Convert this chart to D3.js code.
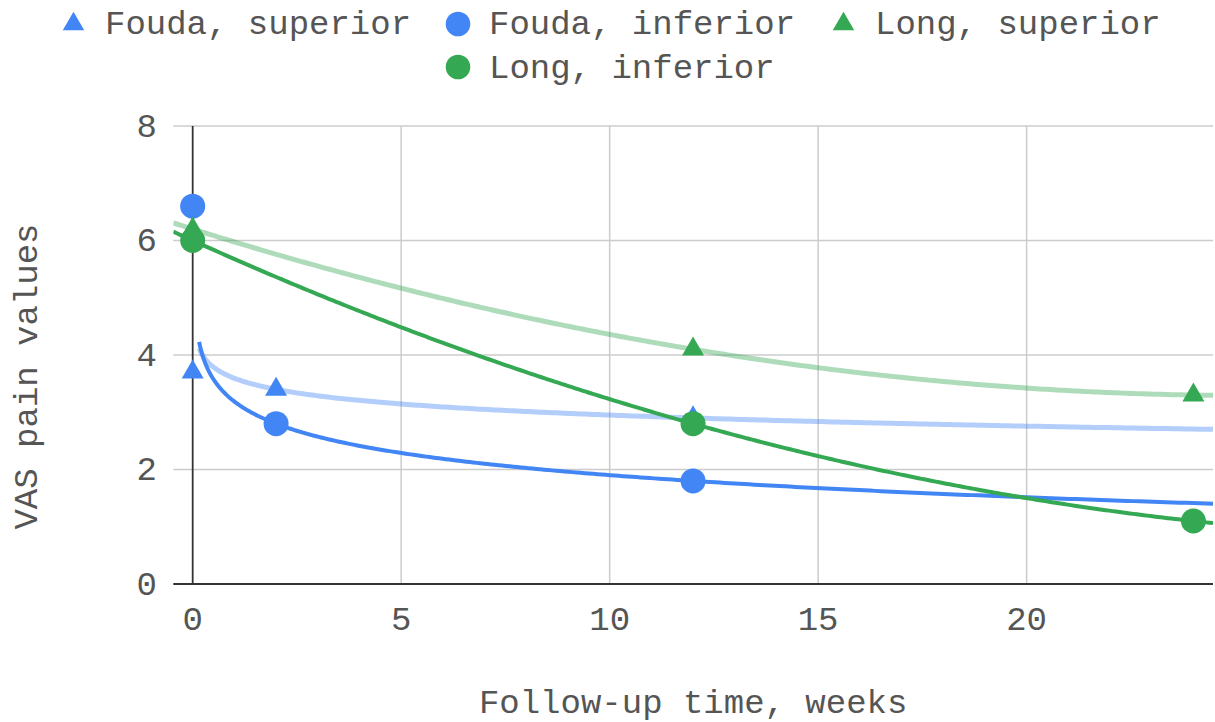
<!DOCTYPE html>
<html>
<head>
<meta charset="utf-8">
<script src="https://cdn.jsdelivr.net/npm/d3@7"></script>
<style>
  html, body { margin: 0; padding: 0; background: #ffffff; }
  svg { display: block; }
</style>
</head>
<body>
<svg id="chart" width="1215" height="722"></svg>
<script>
(function () {
// ---- Data ----
const seriesNames = ["Fouda, superior", "Fouda, inferior", "Long, superior", "Long, inferior"];
const foudaSuperiorX = [0, 2, 12];
const foudaSuperiorY = [3.7, 3.4, 2.9];
const foudaInferiorX = [0, 2, 12];
const foudaInferiorY = [6.6, 2.8, 1.8];
const longSuperiorX = [0, 12, 24];
const longSuperiorY = [6.2, 4.1, 3.3];
const longInferiorX = [0, 12, 24];
const longInferiorY = [6.0, 2.8, 1.1];
const xTicks = [0, 5, 10, 15, 20];
const yTicks = [0, 2, 4, 6, 8];
const xTitle = "Follow-up time, weeks";
const yTitle = "VAS pain values";

// ---- Style ----
const BLUE = "#4285f4", GREEN = "#34a853";
const FONT = "'Liberation Mono', 'Courier New', monospace";
const FS = 34;
const TEXT = "#555555";

const series = [
  { name: seriesNames[0], xs: foudaSuperiorX, ys: foudaSuperiorY, color: BLUE,  shape: "triangle", trend: "log",  trendOpacity: 0.4, trendWidth: 5 },
  { name: seriesNames[1], xs: foudaInferiorX, ys: foudaInferiorY, color: BLUE,  shape: "circle",   trend: "log",  trendOpacity: 1.0, trendWidth: 4 },
  { name: seriesNames[2], xs: longSuperiorX,  ys: longSuperiorY,  color: GREEN, shape: "triangle", trend: "poly", trendOpacity: 0.4, trendWidth: 5 },
  { name: seriesNames[3], xs: longInferiorX,  ys: longInferiorY,  color: GREEN, shape: "circle",   trend: "poly", trendOpacity: 1.0, trendWidth: 4 }
];

const svg = d3.select("#chart");
const pL = 173.3, pR = 1213, pT = 126, pB = 584;
const x = d3.scaleLinear().domain([-0.465, 24.47]).range([pL, pR]);
const y = d3.scaleLinear().domain([0, 8]).range([pB, pT]);

// ---- Least-squares fits ----
function solve(A, b) {
  const n = b.length;
  const M = A.map((r, i) => r.concat([b[i]]));
  for (let i = 0; i < n; i++) {
    let p = i;
    for (let k = i + 1; k < n; k++) if (Math.abs(M[k][i]) > Math.abs(M[p][i])) p = k;
    const tmp = M[i]; M[i] = M[p]; M[p] = tmp;
    for (let k = i + 1; k < n; k++) {
      const f = M[k][i] / M[i][i];
      for (let j = i; j <= n; j++) M[k][j] -= f * M[i][j];
    }
  }
  const s = new Array(n).fill(0);
  for (let i = n - 1; i >= 0; i--) {
    let v = M[i][n];
    for (let j = i + 1; j < n; j++) v -= M[i][j] * s[j];
    s[i] = v / M[i][i];
  }
  return s;
}
function fitBasis(xs, ys, basis) {
  const m = basis.length;
  const A = Array.from({ length: m }, () => new Array(m).fill(0));
  const b = new Array(m).fill(0);
  xs.forEach((xv, i) => {
    const f = basis.map(fn => fn(xv));
    for (let r = 0; r < m; r++) {
      b[r] += f[r] * ys[i];
      for (let c = 0; c < m; c++) A[r][c] += f[r] * f[c];
    }
  });
  const coef = solve(A, b);
  return xv => basis.reduce((acc, fn, k) => acc + coef[k] * fn(xv), 0);
}
function trendFn(s) {
  if (s.trend === "log") {
    const px = [], py = [];
    s.xs.forEach((xv, i) => { if (xv > 0) { px.push(xv); py.push(s.ys[i]); } });
    return { f: fitBasis(px, py, [v => 1, v => Math.log(v)]), x0: 0.155 };
  }
  return { f: fitBasis(s.xs, s.ys, [v => 1, v => v, v => v * v]), x0: x.domain()[0] };
}

// ---- Grid ----
const g = svg.append("g");
g.selectAll(".vgrid").data(xTicks.filter(t => t !== 0)).enter().append("line")
  .attr("x1", d => x(d)).attr("x2", d => x(d)).attr("y1", pT).attr("y2", pB)
  .attr("stroke", "#cccccc").attr("stroke-width", 1.5);
g.selectAll(".hgrid").data(yTicks.filter(t => t !== 0)).enter().append("line")
  .attr("x1", pL).attr("x2", pR).attr("y1", d => y(d)).attr("y2", d => y(d))
  .attr("stroke", "#cccccc").attr("stroke-width", 1.5);
// baselines
g.append("line").attr("x1", x(0)).attr("x2", x(0)).attr("y1", pT).attr("y2", pB)
  .attr("stroke", "#333333").attr("stroke-width", 1.8);
g.append("line").attr("x1", pL).attr("x2", pR).attr("y1", y(0)).attr("y2", y(0))
  .attr("stroke", "#333333").attr("stroke-width", 1.8);

// ---- Tick labels ----
g.selectAll(".ytl").data(yTicks).enter().append("text")
  .attr("x", 157).attr("y", d => y(d) + 10.5)
  .attr("text-anchor", "end").attr("font-family", FONT).attr("font-size", FS)
  .attr("fill", TEXT).text(d => d);
g.selectAll(".xtl").data(xTicks).enter().append("text")
  .attr("x", d => x(d)).attr("y", 630)
  .attr("text-anchor", "middle").attr("font-family", FONT).attr("font-size", FS)
  .attr("fill", TEXT).text(d => d);

// ---- Titles ----
svg.append("text").attr("x", (pL + pR) / 2).attr("y", 713)
  .attr("text-anchor", "middle").attr("font-family", FONT).attr("font-size", FS)
  .attr("fill", TEXT).text(xTitle);
svg.append("text").attr("transform", "translate(37,376.5) rotate(-90)")
  .attr("text-anchor", "middle").attr("font-family", FONT).attr("font-size", FS)
  .attr("fill", TEXT).text(yTitle);

// ---- Trendlines ----
svg.append("clipPath").attr("id", "plotclip").append("rect")
  .attr("x", pL).attr("y", pT - 20).attr("width", pR - pL).attr("height", pB - pT + 20);
const line = d3.line().x(d => x(d[0])).y(d => y(d[1])).curve(d3.curveLinear);
series.forEach(s => {
  const t = trendFn(s);
  const x1 = x.domain()[1];
  const pts = d3.range(0, 301).map(i => {
    const xv = t.x0 + (x1 - t.x0) * Math.pow(i / 300, s.trend === "log" ? 2 : 1);
    return [xv, t.f(xv)];
  });
  svg.append("path").datum(pts).attr("d", line)
    .attr("fill", "none").attr("stroke", s.color).attr("stroke-opacity", s.trendOpacity)
    .attr("stroke-width", s.trendWidth).attr("stroke-linejoin", "round")
    .attr("clip-path", "url(#plotclip)");
});

// ---- Points ----
const RAD = 12.5, TW = 22, TH = 19;
function triPath(cx, cy, w, h) {
  return `M${cx},${cy - 2 * h / 3}L${cx + w / 2},${cy + h / 3}L${cx - w / 2},${cy + h / 3}Z`;
}
series.forEach(s => {
  const data = s.xs.map((xv, i) => [xv, s.ys[i]]);
  if (s.shape === "circle") {
    svg.selectAll(null).data(data).enter().append("circle")
      .attr("cx", d => x(d[0])).attr("cy", d => y(d[1])).attr("r", RAD).attr("fill", s.color);
  } else {
    svg.selectAll(null).data(data).enter().append("path")
      .attr("d", d => triPath(x(d[0]), y(d[1]), TW, TH)).attr("fill", s.color);
  }
});

// ---- Legend ----
const legendPos = [
  { mx: 73.5, tx: 105, cy: 24, by: 34 },
  { mx: 458, tx: 489, cy: 24, by: 34 },
  { mx: 843.5, tx: 875, cy: 24, by: 34 },
  { mx: 458, tx: 489, cy: 67, by: 78 }
];
series.forEach((s, i) => {
  const p = legendPos[i];
  if (s.shape === "circle") {
    svg.append("circle").attr("cx", p.mx).attr("cy", p.cy).attr("r", 12.3).attr("fill", s.color);
  } else {
    svg.append("path").attr("d", triPath(p.mx, p.cy, 21.5, 18.5)).attr("fill", s.color);
  }
  svg.append("text").attr("x", p.tx).attr("y", p.by)
    .attr("font-family", FONT).attr("font-size", FS).attr("fill", TEXT).text(s.name);
});
})();
</script>
</body>
</html>
